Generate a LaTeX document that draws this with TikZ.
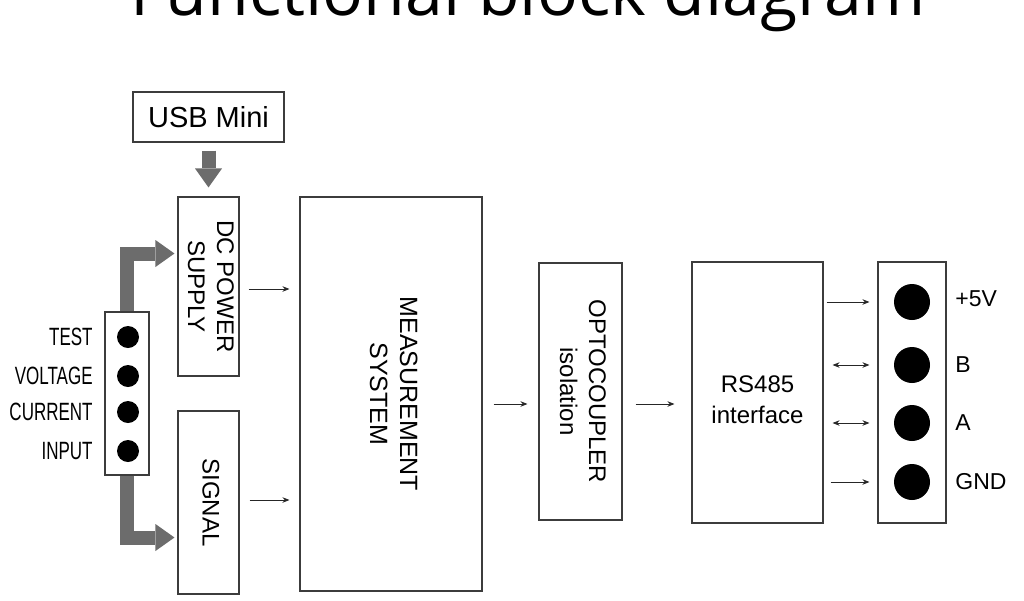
\documentclass[tikz,border=0pt]{standalone}
\usepackage{fontspec}
\setmainfont{Liberation Sans}
\newfontfamily\titlefont{Open Sans}
\newfontfamily\narrowfont[FakeStretch=0.68]{Liberation Sans}
\usetikzlibrary{arrows.meta,positioning}
\definecolor{boxline}{HTML}{3C3C3C}
\definecolor{fatgray}{HTML}{6C6C6C}
\newcommand{\vtext}[1]{\rotatebox{-90}{\begin{tabular}{@{}c@{}}#1\end{tabular}}}

\begin{document}
\begin{tikzpicture}[x=1pt, y=-1pt,
  block/.style={draw=boxline, line width=1.1pt, inner sep=0pt, align=center,
                font=\fontsize{24}{29}\selectfont},
  pin/.style={circle, fill=black, inner sep=0pt},
  pinlbl/.style={font=\narrowfont\fontsize{25}{28}\selectfont, inner sep=0pt},
  buslbl/.style={font=\fontsize{23}{26}\selectfont, inner sep=0pt, anchor=west},
  sig/.style={-{Stealth[length=7pt, width=5.5pt]}, line width=0.9pt, black!85},
  sigboth/.style={sig, {Stealth[length=7pt, width=5.5pt]}-{Stealth[length=7pt, width=5.5pt]}},
  fat/.style={-{Triangle[length=19pt, width=27pt, line width=0pt]}, line width=14pt,
              draw=fatgray, line join=miter}
]
  \useasboundingbox (0,0) rectangle (1024,600);
  \fill[white] (0,0) rectangle (1024,600);

  \node[font=\titlefont\fontsize{68}{80}\selectfont, anchor=base, inner sep=0pt] (title) at (528,15) {Functional block diagram};

  \node[block, minimum width=151pt, minimum height=50pt, font=\fontsize{29}{34}\selectfont] (usb) at (208.5,117) {USB Mini};
  \node[block, minimum width=61pt, minimum height=179pt] (dcps)   at (208.5,286.5) {\vtext{DC POWER\\SUPPLY}};
  \node[block, minimum width=61pt, minimum height=183pt] (signal) at (208.5,502.5) {\vtext{SIGNAL}};
  \node[block, minimum width=182pt, minimum height=394pt, font=\fontsize{25}{30}\selectfont] (meas) at (391,394) {\vtext{MEASUREMENT\\SYSTEM}};
  \node[block, minimum width=83pt, minimum height=257pt] (opto)   at (580.5,391.5) {\vtext{OPTOCOUPLER\\isolation}};
  \node[block, minimum width=131pt, minimum height=261pt] (rs) at (757.5,392.5) {};
  \node[font=\fontsize{24}{31}\selectfont, align=center] (rslbl) at (757.5,400) {RS485\\interface};
  \node[block, minimum width=44pt, minimum height=163pt]  (tin)  at (127,393.5) {};
  \node[block, minimum width=68pt, minimum height=261pt]  (tout) at (912,392.5) {};

  % test input terminals
  \node[pin, minimum size=22pt] (dl1) at (128,337) {};
  \node[pin, minimum size=22pt] (dl2) at (128,376) {};
  \node[pin, minimum size=22pt] (dl3) at (128,412) {};
  \node[pin, minimum size=22pt] (dl4) at (128,451) {};
  \node[pinlbl, left=24pt of dl1] (ltest)    {TEST};
  \node[pinlbl, left=24pt of dl2] (lvoltage) {VOLTAGE};
  \node[pinlbl, left=24pt of dl3] (lcurrent) {CURRENT};
  \node[pinlbl, left=24pt of dl4] (linput)   {INPUT};

  % bus terminals
  \node[pin, minimum size=36pt] (dr1) at (912,302) {};
  \node[pin, minimum size=36pt] (dr2) at (912,365) {};
  \node[pin, minimum size=36pt] (dr3) at (912,423) {};
  \node[pin, minimum size=36pt] (dr4) at (912,482) {};
  \node[buslbl, right=25pt of dr1, yshift=3pt] (lplus) {+5V};
  \node[buslbl, right=25pt of dr2] (lb)   {B};
  \node[buslbl, right=25pt of dr3] (la)   {A};
  \node[buslbl, right=25pt of dr4] (lgnd) {GND};

  \draw[fat] ([yshift=-8pt]usb.south) -- ([yshift=9pt]dcps.north);
  \draw[fat] (tin.north) |- ([xshift=-3pt, yshift=33pt]dcps.west);
  \draw[fat] (tin.south) |- ([xshift=-3pt, yshift=-35pt]signal.west);

  \draw[sig, shorten <=9pt, shorten >=10pt]  ([yshift=-2.5pt]dcps.east) -- ([yshift=-2.5pt]dcps.east -| meas.west);
  \draw[sig, shorten <=10pt, shorten >=10pt] ([yshift=2.5pt]signal.east) -- ([yshift=2.5pt]signal.east -| meas.west);
  \draw[sig, shorten <=11pt, shorten >=11pt] ([yshift=-10pt]meas.east) -- ([yshift=-10pt]meas.east -| opto.west);
  \draw[sig, shorten <=13pt, shorten >=17pt] ([yshift=-12.5pt]opto.east) -- ([yshift=-12.5pt]opto.east -| rs.west);
  \draw[sig, shorten <=3pt, shorten >=8pt]       (rs.east |- dr1) -- (dr1 -| tout.west);
  \draw[sigboth, shorten <=9pt, shorten >=8pt]   (rs.east |- dr2) -- (dr2 -| tout.west);
  \draw[sigboth, shorten <=9pt, shorten >=8pt]   (rs.east |- dr3) -- (dr3 -| tout.west);
  \draw[sig, shorten <=7pt, shorten >=8pt]       (rs.east |- dr4) -- (dr4 -| tout.west);
\end{tikzpicture}
\end{document}
